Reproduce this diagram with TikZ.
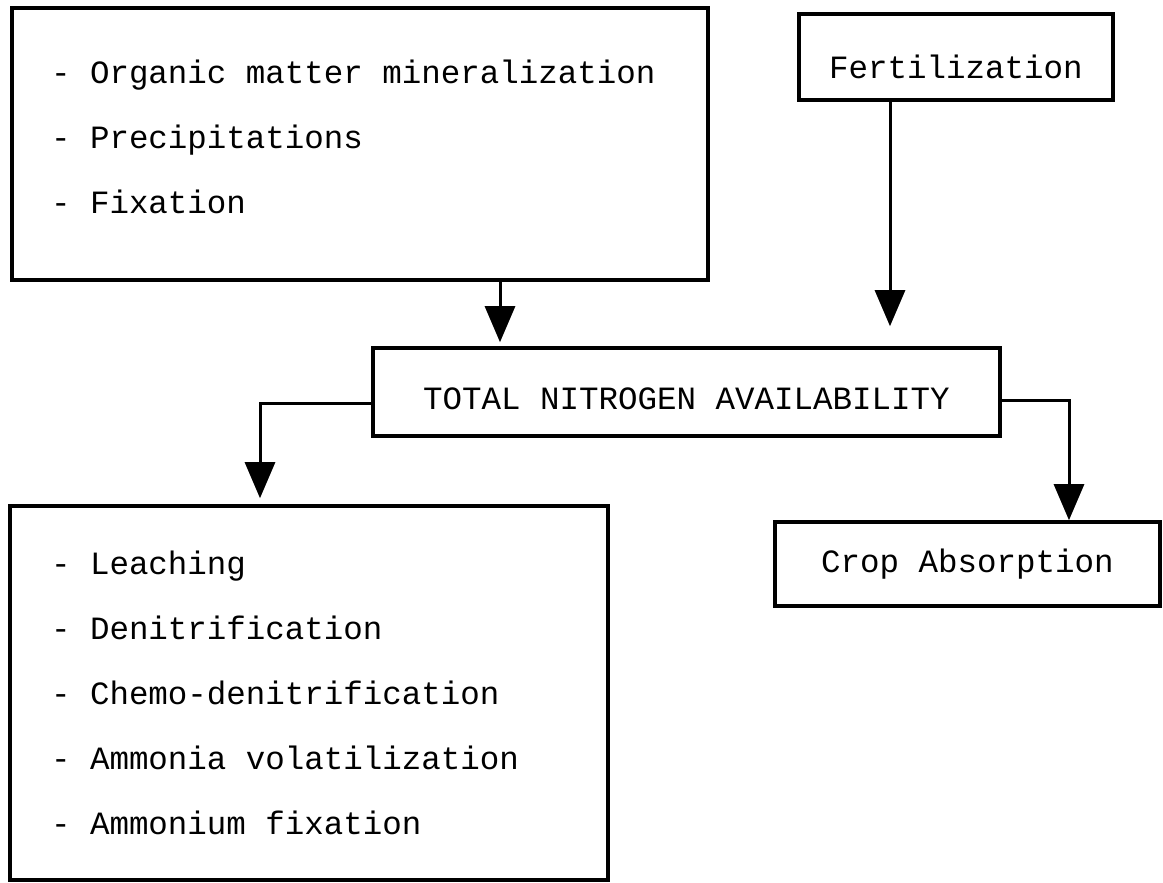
\documentclass[tikz,border=0pt]{standalone}
\usepackage{fontspec}
\setmonofont{Liberation Mono}
\usetikzlibrary{arrows.meta}

\begin{document}
\begin{tikzpicture}[x=0.5pt, y=-0.5pt,
		box/.style={draw, line width=1.8pt, font=\ttfamily\fontsize{16.25}{32.5}\selectfont},
		arr/.style={line width=1.5pt, -{Triangle[length=18pt, width=15pt]}}]
		\useasboundingbox[fill=white] (0,0) rectangle (1163,883);
		
		% 方框
		\node[box, minimum width=348pt, minimum height=136pt, text width=309pt, inner xsep=19.5pt, align=flush left, text depth=72pt] (sources) at (360,144)
			{- Organic matter mineralization\\- Precipitations\\- Fixation};
		\node[box, minimum width=157pt, minimum height=43pt, text height=22pt, text depth=0pt] (fert) at (956,57) {Fertilization};
		\node[box, minimum width=313.5pt, minimum height=44pt, text height=17pt, text depth=0pt] (total) at (686.5,392) {TOTAL NITROGEN AVAILABILITY};
		\node[box, minimum width=299pt, minimum height=187pt, text width=258pt, inner xsep=20.5pt, align=flush left] (losses) at (309,693)
			{- Leaching\\- Denitrification\\- Chemo-denitrification\\- Ammonia volatilization\\- Ammonium fixation};
		\node[box, minimum width=192.5pt, minimum height=42pt] (crop) at (967.5,564) {Crop Absorption};
		
		% 箭头
		\draw[arr, shorten >=2pt] ([xshift=70pt]sources.south) -- ([xshift=70pt]sources.south |- total.north);
		\draw[arr, shorten >=10pt] ([xshift=-33pt]fert.south) -- ([xshift=-33pt]fert.south |- total.north);
		\draw[arr, shorten >=3pt] ([yshift=-5.5pt]total.west) -| ([xshift=-24.5pt]losses.north);
		\draw[arr] ([yshift=-4pt]total.east) -| ([xshift=50.75pt]crop.north);
	\end{tikzpicture}
\end{document}
